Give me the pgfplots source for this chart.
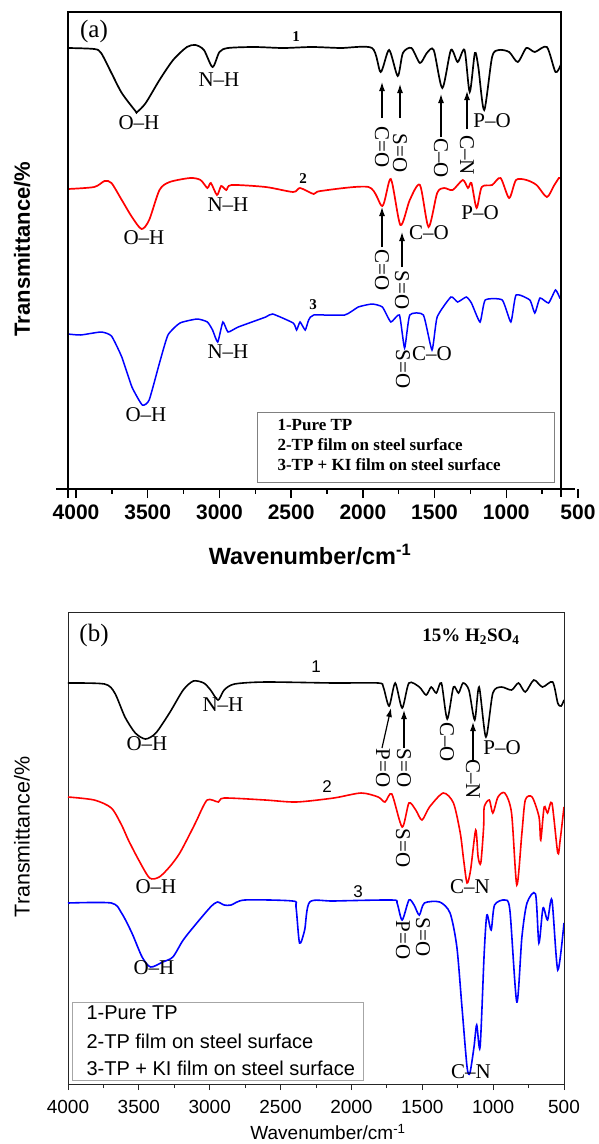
\documentclass[border=0pt]{standalone}
\usepackage{fontspec}
\setmainfont{Liberation Serif}
\newfontfamily\arial{Liberation Sans}
\usepackage{pgfplots}
\pgfplotsset{compat=1.18}
\usetikzlibrary{arrows.meta}
\newcommand\fs[1]{\fontsize{#1}{#1}\selectfont}

\pgfplotstableread{
x y
4056 -48
3873 -49
3825 -53
3753 -73
3681 -93
3586 -111
3574 -112
3514 -103
3418 -80
3323 -60
3227 -47
3167 -45
3108 -50
3048 -67
3000 -52
2940 -48
2756 -47
2556 -48
2356 -47
2156 -48
1936 -48
1876 -72
1817 -50
1757 -76
1721 -53
1661 -48
1602 -63
1554 -53
1506 -50
1446 -88
1386 -50
1339 -62
1291 -50
1255 -92
1219 -53
1195 -67
1154 -110
1099 -57
1052 -50
980 -52
920 -62
860 -48
801 -52
717 -47
657 -72
621 -65
}\Aone

\pgfplotstableread{
x y
4056 -189
3873 -187
3801 -181
3753 -183
3681 -200
3610 -217
3543 -229
3490 -220
3418 -190
3347 -182
3203 -178
3132 -180
3084 -188
3060 -183
3017 -195
2988 -186
2952 -190
2916 -185
2677 -187
2486 -192
2438 -188
2343 -194
2295 -191
1960 -187
1864 -206
1805 -179
1738 -225
1673 -200
1602 -185
1542 -227
1482 -193
1434 -188
1374 -190
1303 -180
1267 -188
1243 -183
1207 -208
1171 -187
1099 -185
1040 -178
980 -198
932 -180
860 -180
789 -185
717 -197
669 -186
633 -178
621 -178
}\Atwo

\pgfplotstableread{
x y
4056 -334
3968 -335
3825 -332
3753 -336
3681 -357
3610 -387
3538 -405
3490 -400
3418 -363
3359 -335
3275 -323
3155 -319
3084 -322
3048 -330
3012 -342
2976 -322
2940 -332
2869 -327
2677 -317
2629 -314
2486 -323
2462 -330
2438 -322
2402 -330
2378 -320
2343 -315
2127 -315
2032 -307
1936 -304
1864 -307
1805 -322
1745 -315
1709 -348
1673 -315
1578 -315
1518 -350
1482 -317
1386 -297
1339 -302
1279 -297
1243 -303
1183 -322
1147 -300
1028 -300
968 -322
932 -295
836 -300
801 -313
765 -298
705 -303
657 -290
626 -298
621 -298
}\Athree

\pgfplotstableread{
x y
4000 -683
3742 -684
3670 -693
3598 -717
3525 -733
3453 -739
3380 -733
3284 -713
3187 -690
3115 -681
3042 -683
2994 -690
2941 -700
2898 -690
2825 -684
2608 -682
2125 -683
1811 -683
1775 -687
1734 -706
1691 -683
1642 -708
1594 -683
1521 -687
1473 -695
1437 -687
1401 -693
1365 -683
1324 -719
1280 -687
1244 -693
1212 -683
1171 -690
1130 -720
1099 -687
1051 -737
1002 -693
942 -687
870 -690
821 -683
773 -692
713 -680
652 -687
580 -682
544 -703
520 -706
500 -700
}\Bone

\pgfplotstableread{
x y
4000 -797
3815 -800
3694 -808
3622 -825
3574 -840
3501 -860
3424 -878
3356 -877
3284 -867
3211 -853
3115 -827
3091 -820
3018 -800
2938 -802
2898 -798
2608 -800
2390 -802
2125 -798
1932 -793
1811 -797
1763 -802
1715 -794
1642 -827
1594 -803
1546 -810
1502 -820
1449 -807
1352 -793
1280 -803
1232 -833
1208 -860
1184 -883
1159 -870
1123 -830
1106 -857
1087 -863
1067 -827
1063 -807
1027 -800
1002 -813
966 -797
918 -793
870 -813
833 -885
797 -833
773 -800
725 -797
676 -817
664 -840
640 -807
616 -813
585 -803
544 -853
527 -840
500 -807
}\Btwo

\pgfplotstableread{
x y
4000 -903
3694 -903
3622 -913
3549 -933
3477 -957
3417 -967
3332 -962
3260 -957
3187 -940
3091 -923
2994 -907
2946 -902
2898 -905
2849 -905
2753 -900
2415 -901
2391 -907
2366 -943
2330 -930
2294 -902
2125 -901
1715 -900
1678 -903
1642 -920
1594 -900
1558 -905
1521 -915
1485 -903
1377 -902
1304 -913
1256 -947
1220 -1007
1184 -1067
1164 -1073
1135 -1047
1116 -1025
1092 -1047
1063 -953
1044 -915
1014 -930
990 -905
918 -900
882 -910
833 -1002
797 -937
761 -903
701 -894
677 -943
648 -908
616 -920
585 -900
544 -970
500 -923
}\Bthree

\begin{document}
\begin{tikzpicture}
\path[use as bounding box] (0,0) rectangle (598pt,-1144pt);

% ---------------- panel (a)
\begin{axis}[
  at={(68pt,-489pt)}, anchor=south west, scale only axis,
  width=510pt, height=477pt,
  xmin=500, xmax=4056, x dir=reverse, ymin=-489, ymax=-12,
  axis line style={draw=none},
  xtick={500,1000,...,4000}, minor x tick num=1, ytick=\empty,
  tick align=outside, xtick pos=left,
  major tick length=9pt, minor tick length=4.5pt,
  every tick/.style={black, line width=1.5pt},
  /pgf/number format/assume math mode=true, /pgf/number format/1000 sep={},
  xticklabel style={font=\arial\bfseries\fs{21}, anchor=north, inner sep=0pt, yshift=-7pt},
]
\addplot[black, line width=1.7pt, smooth, tension=0.45] table {\Aone};
\addplot[red, line width=1.7pt, smooth, tension=0.45] table {\Atwo};
\addplot[blue, line width=1.5pt, smooth, tension=0.3] table {\Athree};
\end{axis}

% ---------------- panel (b)
\begin{axis}[
  at={(68pt,-1084pt)}, anchor=south west, scale only axis,
  width=496pt, height=472pt,
  xmin=500, xmax=4000, x dir=reverse, ymin=-1084, ymax=-612,
  axis line style={black!85, line width=0.9pt},
  xtick={500,1000,...,4000}, minor x tick num=1, ytick=\empty,
  tick align=outside, xtick pos=left,
  major tick length=6pt, minor tick length=4pt,
  every tick/.style={black!85, line width=0.9pt},
  /pgf/number format/assume math mode=true, /pgf/number format/1000 sep={},
  xticklabel style={font=\arial\fs{19}, anchor=north, inner sep=0pt, yshift=-10pt},
]
\addplot[black, line width=1.6pt, smooth, tension=0.45] table {\Bone};
\addplot[red, line width=1.6pt, smooth, tension=0.45] table {\Btwo};
\addplot[blue, line width=1.6pt, smooth, tension=0.45] table {\Bthree};
\end{axis}

\begin{scope}[x=1pt, y=-1pt, font=\fs{21},
  arr/.style={-{Latex[length=9pt,width=6pt]}, line width=1.2pt}]
% frame (a)
\draw[line width=2pt] (56,489) -- (575,489);
\draw[line width=2pt] (68,12) -- (68,498);
\draw[line width=2pt] (561,12) -- (561,497);
\draw[line width=1.5pt] (67,12) -- (562,12);
% labels (a)
\node[rotate=90, font=\arial\bfseries\fs{22}] at (22,249) {Transmittance/\%};
\node[font=\arial\bfseries\fs{23.5}] at (310,555) {Wavenumber/cm\textsuperscript{-1}};
\node[font=\fs{25}] at (94,31) {(a)};
\node[font=\bfseries\fs{15}] at (296,37) {1};
\node at (219,80) {N--H};
\node at (139,123) {O--H};
\draw[arr] (382,118) -- (382,82);
\node[rotate=-90] at (382,147) {C=O};
\draw[arr] (400,118) -- (400,84);
\node[rotate=-90] at (400,153) {S=O};
\draw[arr] (441,137) -- (441,94);
\node[rotate=-90] at (441,158) {C--O};
\draw[arr] (467,129) -- (467,91);
\node[rotate=-90] at (467,155) {C--N};
\node at (492,121) {P--O};
\node[font=\bfseries\fs{15}] at (303,179) {2};
\node at (228,205) {N--H};
\node at (144,238) {O--H};
\draw[arr] (382,247) -- (382,207);
\node[rotate=-90] at (382,270) {C=O};
\draw[arr] (402,267) -- (402,232);
\node[rotate=-90] at (402,290) {S=O};
\node at (429,233) {C--O};
\node at (480,213) {P--O};
\node[font=\bfseries\fs{15}] at (313,305) {3};
\node at (228,352) {N--H};
\node at (146,415) {O--H};
\node[rotate=-90] at (403,369) {S=O};
\node at (432,354) {C--O};
\draw[gray, line width=1pt] (257,412) rectangle (554,482);
\node[anchor=west, font=\bfseries\fs{17}] at (274,425) {1-Pure TP};
\node[anchor=west, font=\bfseries\fs{17}] at (274,445) {2-TP film on steel surface};
\node[anchor=west, font=\bfseries\fs{17}] at (274,465) {3-TP + KI film on steel surface};

% labels (b)
\node[rotate=90, font=\arial\fs{21.5}] at (22,837) {Transmittance/\%};
\node[font=\arial\fs{19}] at (328,1132) {Wavenumber/cm\textsuperscript{-1}};
\node[font=\fs{25}] at (94,635) {(b)};
\node[font=\bfseries\fs{19}] at (471,637) {15\% H\textsubscript{2}SO\textsubscript{4}};
\node[font=\arial\fs{17}] at (316,667) {1};
\node at (223,705) {N--H};
\node at (147,744) {O--H};
\draw[arr] (382,748) -- (391,708);
\node[rotate=-90] at (383,768) {P=O};
\draw[arr] (404,748) -- (404,710);
\node[rotate=-90] at (404,768) {S=O};
\node[rotate=-90] at (447,742) {C--O};
\draw[arr] (473,760) -- (473,722);
\node[rotate=-90] at (473,779) {C--N};
\node at (502,748) {P--O};
\node[font=\arial\fs{17}] at (327,787) {2};
\node[rotate=-90] at (403,848) {S=O};
\node at (156,887) {O--H};
\node at (470,887) {C--N};
\node[font=\arial\fs{17}] at (358,892) {3};
\node[rotate=-90] at (403,940) {P=O};
\node[rotate=-90] at (423,937) {S=O};
\node at (154,968) {O--H};
\node at (471,1072) {C--N};
\draw[gray!70, line width=1pt] (72,1002) rectangle (363,1080);
\node[anchor=west, font=\arial\fs{20}] at (83,1013) {1-Pure TP};
\node[anchor=west, font=\arial\fs{20}] at (83,1041) {2-TP film on steel surface};
\node[anchor=west, font=\arial\fs{20}] at (83,1068) {3-TP + KI film on steel surface};
\end{scope}
\end{tikzpicture}
\end{document}
